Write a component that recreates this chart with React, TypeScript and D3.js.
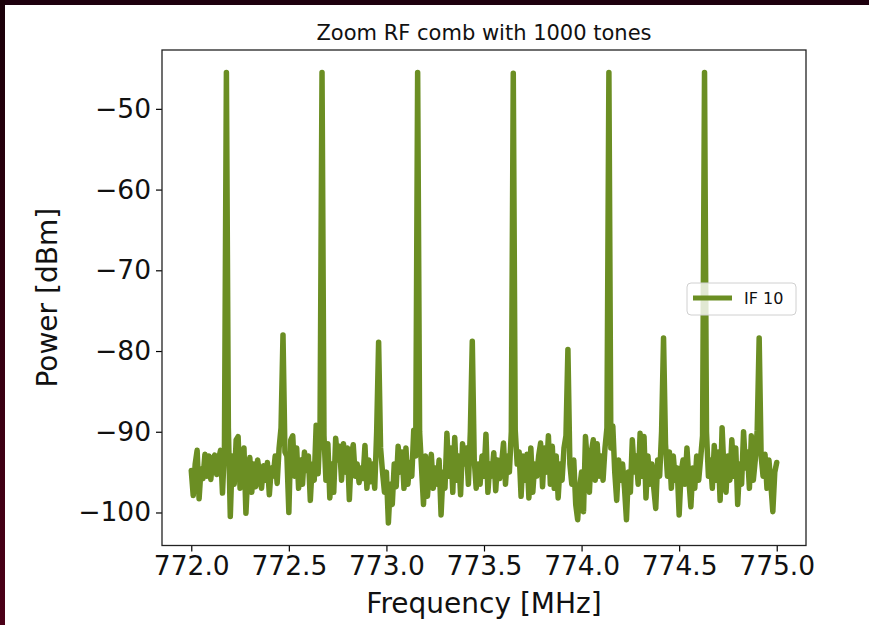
import React, { useEffect, useRef } from 'react';
import * as d3 from 'd3';

// spectrum: noise floor sampled every 10 kHz from 772.0 MHz, tones laid on top
const freqStart = 772.0;
const freqStep = 0.01;

const noiseDb = [
  -94.8, -97.9, -94.0, -92.3, -98.3, -94.6, -95.8, -92.8, -95.5, -93.0,
  -95.9, -93.3, -92.9, -95.3, -93.4, -92.3, -97.6, -92.0, -94.0, -89.5,
  -100.5, -93.0, -96.5, -91.0, -90.6, -97.0, -93.5, -92.0, -100.1, -95.0,
  -93.2, -97.5, -94.0, -96.8, -93.5, -95.2, -97.0, -94.2, -96.0, -93.8,
  -97.8, -94.5, -95.5, -93.0, -96.4, -92.0, -89.5, -94.0, -92.5, -93.0,
  -100.0, -91.0, -90.5, -95.5, -92.0, -97.0, -93.5, -96.5, -92.5, -94.8,
  -93.0, -98.5, -94.0, -96.0, -89.2, -95.2, -89.0, -94.0, -90.5, -96.0,
  -91.5, -98.2, -94.0, -97.5, -90.8, -93.5, -91.8, -96.0, -91.5, -95.0,
  -92.0, -98.4, -93.0, -91.6, -95.5, -94.0, -96.3, -94.5, -95.8, -91.7,
  -97.0, -93.5, -96.2, -94.0, -97.0, -90.0, -94.0, -92.0, -95.0, -97.5,
  -95.0, -101.3, -96.5, -99.0, -94.0, -96.8, -91.8, -95.0, -92.5, -97.0,
  -92.0, -96.5, -93.8, -95.5, -89.8, -93.0, -94.0, -90.0, -94.5, -99.0,
  -93.0, -98.0, -95.0, -92.8, -97.0, -94.5, -96.5, -93.5, -100.3, -95.0,
  -97.0, -90.2, -95.5, -92.0, -97.5, -90.7, -96.0, -93.0, -97.8, -91.5,
  -94.0, -92.0, -96.5, -90.0, -94.0, -93.5, -97.0, -94.0, -96.5, -93.0,
  -95.5, -90.3, -97.5, -94.0, -95.5, -92.6, -97.3, -93.5, -95.8, -94.0,
  -91.4, -96.5, -93.0, -95.0, -90.0, -94.0, -89.8, -94.0, -92.5, -98.0,
  -93.0, -96.0, -92.8, -98.2, -92.0, -97.5, -94.0, -95.5, -93.0, -91.4,
  -96.8, -92.0, -95.0, -90.5, -96.5, -91.8, -97.0, -93.0, -98.2, -94.0,
  -96.0, -92.0, -90.5, -94.0, -94.0, -96.5, -93.5, -99.0, -100.9, -97.0,
  -95.0, -99.9, -90.6, -94.0, -97.5, -92.5, -91.0, -96.0, -91.5, -95.5,
  -93.0, -96.0, -92.0, -89.5, -94.0, -92.0, -89.3, -95.0, -98.5, -93.5,
  -96.0, -94.0, -97.0, -100.9, -95.0, -97.5, -91.0, -95.0, -93.0, -96.5,
  -90.2, -95.5, -90.6, -98.2, -93.0, -96.5, -94.0, -97.0, -99.5, -93.5,
  -95.5, -90.0, -94.0, -91.5, -95.5, -92.5, -97.0, -93.0, -96.0, -94.5,
  -100.3, -95.0, -93.5, -96.5, -92.0, -96.0, -99.3, -94.5, -97.0, -93.0,
  -96.0, -93.3, -90.5, -94.0, -90.0, -95.5, -93.5, -97.0, -91.7, -96.0,
  -92.5, -98.5, -89.5, -95.0, -97.5, -93.0, -96.0, -91.0, -95.5, -92.0,
  -99.0, -94.0, -96.5, -90.0, -94.5, -92.5, -97.0, -90.5, -96.0, -93.5,
  -89.8, -94.0, -93.0, -95.5, -92.8, -97.0, -93.5, -96.5, -99.9, -95.0, -93.8,
];

const mainToneMHz = [772.18, 772.67, 773.16, 773.65, 774.14, 774.63];
const mainToneDb = [-45.5, -45.5, -45.5, -45.6, -45.5, -45.5];
const sideToneMHz = [772.47, 772.96, 773.44, 773.93, 774.42, 774.91];
const sideToneDb = [-78.0, -78.9, -78.8, -79.8, -78.4, -78.4];

const xTicks = [772.0, 772.5, 773.0, 773.5, 774.0, 774.5, 775.0];
const yTicks = [-50, -60, -70, -80, -90, -100];

const W = 869, H = 625;
const box = { left: 162, right: 806, top: 50, bottom: 545.5 };
const green = '#6b8e23';
const font = 'DejaVu Sans, sans-serif';

function buildSeries() {
  const pts = noiseDb.map((db, i) => ({ f: freqStart + i * freqStep, db }));
  const put = (freqs: number[], dbs: number[]) => {
    freqs.forEach((f, k) => {
      const i = Math.round((f - freqStart) / freqStep);
      pts[i] = { f: pts[i].f, db: dbs[k] };
    });
  };
  put(mainToneMHz, mainToneDb);
  put(sideToneMHz, sideToneDb);
  return pts;
}

export default function App() {
  const ref = useRef<SVGSVGElement>(null);

  useEffect(() => {
    const data = buildSeries();
    const svg = d3.select(ref.current);
    svg.selectAll('*').remove();

    // dark window frame bits
    const defs = svg.append('defs');
    const grad = defs.append('linearGradient').attr('id', 'frame').attr('x1', 0).attr('x2', 0).attr('y1', 0).attr('y2', 1);
    grad.append('stop').attr('offset', '0%').attr('stop-color', '#1a0009');
    grad.append('stop').attr('offset', '100%').attr('stop-color', '#4c0018');
    svg.append('rect').attr('width', W).attr('height', H).attr('fill', '#ffffff');
    svg.append('rect').attr('x', 0).attr('y', 0).attr('width', W).attr('height', 5).attr('fill', '#1e000e');
    svg.append('rect').attr('x', 0).attr('y', 0).attr('width', 5).attr('height', H).attr('fill', 'url(#frame)');

    const [fmin, fmax] = d3.extent(data, d => d.f) as [number, number];
    const [dmin, dmax] = d3.extent(data, d => d.db) as [number, number];
    const fpad = (fmax - fmin) * 0.05;
    const dpad = (dmax - dmin) * 0.05;

    const x = d3.scaleLinear().domain([fmin - fpad, fmax + fpad]).range([box.left, box.right]);
    const y = d3.scaleLinear().domain([dmin - dpad, dmax + dpad]).range([box.bottom, box.top]);

    const line = d3.line<{ f: number; db: number }>().x(d => x(d.f)).y(d => y(d.db));

    svg.append('path')
      .datum(data)
      .attr('d', line)
      .attr('fill', 'none')
      .attr('stroke', green)
      .attr('stroke-width', 5.5)
      .attr('stroke-linejoin', 'round')
      .attr('stroke-linecap', 'round');

    // axes
    const xAxis = svg.append('g')
      .attr('transform', `translate(0,${box.bottom})`)
      .call(d3.axisBottom(x).tickValues(xTicks).tickFormat(d3.format('.1f')).tickSize(6).tickPadding(5));
    const yAxis = svg.append('g')
      .attr('transform', `translate(${box.left},0)`)
      .call(d3.axisLeft(y).tickValues(yTicks).tickFormat(d3.format('d')).tickSize(6).tickPadding(5));

    [xAxis, yAxis].forEach(g => {
      g.select('.domain').remove();
      g.selectAll('line').attr('stroke', '#000').attr('stroke-width', 1.2);
      g.selectAll('text').attr('font-family', font).attr('font-size', 26.5).attr('fill', '#111');
    });

    svg.append('rect')
      .attr('x', box.left).attr('y', box.top)
      .attr('width', box.right - box.left).attr('height', box.bottom - box.top)
      .attr('fill', 'none').attr('stroke', '#222').attr('stroke-width', 1.3);

    // title and labels
    const cx = (box.left + box.right) / 2;
    svg.append('text').attr('x', cx).attr('y', 40).attr('text-anchor', 'middle')
      .attr('font-family', font).attr('font-size', 21).attr('fill', '#111')
      .text('Zoom RF comb with 1000 tones');
    svg.append('text').attr('x', cx).attr('y', 613).attr('text-anchor', 'middle')
      .attr('font-family', font).attr('font-size', 28).attr('fill', '#111')
      .text('Frequency [MHz]');
    svg.append('text')
      .attr('transform', `translate(57,${(box.top + box.bottom) / 2}) rotate(-90)`)
      .attr('text-anchor', 'middle')
      .attr('font-family', font).attr('font-size', 28).attr('fill', '#111')
      .text('Power [dBm]');

    // legend
    const lg = svg.append('g').attr('transform', 'translate(687,283)');
    lg.append('rect').attr('width', 109).attr('height', 32).attr('rx', 4)
      .attr('fill', '#fff').attr('fill-opacity', 0.8).attr('stroke', '#d0d0d0');
    lg.append('line').attr('x1', 6).attr('x2', 45).attr('y1', 15).attr('y2', 15)
      .attr('stroke', green).attr('stroke-width', 5);
    lg.append('text').attr('x', 57).attr('y', 21)
      .attr('font-family', font).attr('font-size', 16).attr('fill', '#111')
      .text('IF 10');
  }, []);

  return <svg ref={ref} width={W} height={H} style={{ position: 'absolute', left: 0, top: 0 }} />;
}
